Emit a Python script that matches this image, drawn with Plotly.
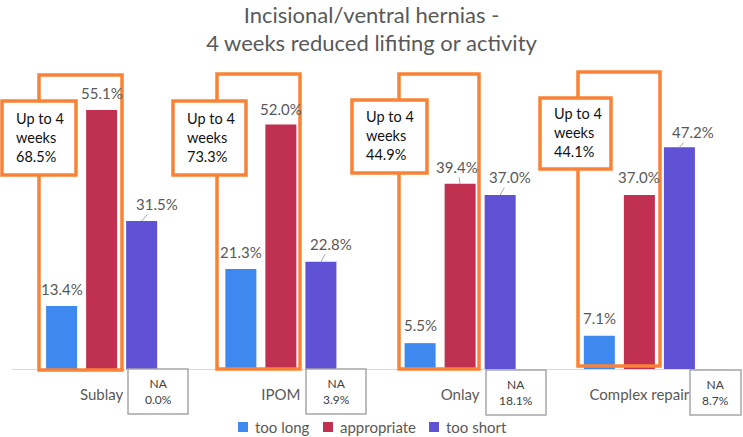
import plotly.graph_objects as go

# ---- data ----
categories = ["Sublay", "IPOM", "Onlay", "Complex repair"]
series_names = ["too long", "appropriate", "too short"]
too_long = [13.4, 21.3, 5.5, 7.1]
appropriate = [55.1, 52.0, 39.4, 37.0]
too_short = [31.5, 22.8, 37.0, 47.2]
up_to_4_weeks = [68.5, 73.3, 44.9, 44.1]
na_share = [0.0, 3.9, 18.1, 8.7]

series_values = [too_long, appropriate, too_short]

# ---- styling / layout ----
colors = ["#3D89F0", "#C03050", "#6052D4"]
orange = "#F98236"
gray_text = "#595959"
FONT = "Lato"

W, H = 743, 437
ML, MR, MT, MB = 12, 14, 60, 68
plot_w = W - ML - MR
plot_h = H - MT - MB
PX_PER_PCT = 4.70
YMAX = plot_h / PX_PER_PCT

BARGAP = 0.33
BARGROUPGAP = 0.225
SLOT = (1 - BARGAP) / 3


def px2x(px):
    return (px - ML) / plot_w


def py2y(py):
    return (H - MB - py) / plot_h


# label offsets (ax, ay, leader line) per series per category
label_offsets = [
    [(0, -17, False), (0, -17, False), (0, -18, False), (0, -18, False)],
    [(0, -17, False), (0, -16, False), (-3, -17, True), (0, -18, False)],
    [(15, -17, True), (10, -18, True), (10, -18, True), (14, -15, True)],
]

# orange boxes (pixel centerlines)
tall_boxes = [(39, 122, 75, 370), (217, 300, 74, 369), (399, 479, 74, 369), (578, 660, 72, 366)]
small_boxes = [(2, 76, 101, 175), (173, 246, 101, 175), (352, 427, 100, 173), (540, 611, 98, 169)]
na_boxes = [(128, 188, 369, 414), (306, 366, 369, 414), (486, 546, 370, 415), (690, 741, 370, 415)]
legend_x = [238, 323, 429]   # left edge of each legend swatch (px)
LEGEND_Y = 427

fig = go.Figure()
for name, vals, col in zip(series_names, series_values, colors):
    fig.add_trace(go.Bar(
        x=categories, y=vals, name=name, marker=dict(color=col, line=dict(width=0)),
        hoverinfo="skip", showlegend=False,
    ))

annotations = []
for k, vals in enumerate(series_values):
    for i, v in enumerate(vals):
        ax, ay, leader = label_offsets[k][i]
        xpos = i + (k - 1) * SLOT
        txt = f"{v:.1f}%"
        if leader:
            annotations.append(dict(
                x=xpos, y=v, xref="x", yref="y", text=txt, showarrow=True,
                ax=ax, ay=ay, arrowhead=0, arrowwidth=1, arrowcolor="#A6A6A6",
                standoff=0, font=dict(family=FONT, size=15, color=gray_text),
            ))
        else:
            annotations.append(dict(
                x=xpos, y=v, xref="x", yref="y", text=txt, showarrow=False,
                yshift=-ay, yanchor="middle",
                font=dict(family=FONT, size=15, color=gray_text),
            ))

shapes = []
for (x0, x1, y0, y1) in tall_boxes:
    shapes.append(dict(type="rect", xref="paper", yref="paper",
                       x0=px2x(x0), x1=px2x(x1), y0=py2y(y1), y1=py2y(y0),
                       line=dict(color=orange, width=3.5), fillcolor="rgba(0,0,0,0)", layer="above"))
for (x0, x1, y0, y1), pct in zip(small_boxes, up_to_4_weeks):
    shapes.append(dict(type="rect", xref="paper", yref="paper",
                       x0=px2x(x0), x1=px2x(x1), y0=py2y(y1), y1=py2y(y0),
                       line=dict(color=orange, width=3.5), fillcolor="white", layer="above"))
    annotations.append(dict(
        x=px2x(x0 + 12), y=py2y((y0 + y1) / 2 - 1), xref="paper", yref="paper",
        xanchor="left", yanchor="middle", align="left", showarrow=False,
        text=f"Up to 4<br>weeks<br>{pct:.1f}%",
        font=dict(family=FONT, size=14.5, color="#111111"),
    ))
for (x0, x1, y0, y1), na in zip(na_boxes, na_share):
    shapes.append(dict(type="rect", xref="paper", yref="paper",
                       x0=px2x(x0), x1=px2x(x1), y0=py2y(y1), y1=py2y(y0),
                       line=dict(color="#A6A6A6", width=1.5), fillcolor="white", layer="above"))
    annotations.append(dict(
        x=px2x((x0 + x1) / 2), y=py2y((y0 + y1) / 2), xref="paper", yref="paper",
        xanchor="center", yanchor="middle", showarrow=False,
        text=f"NA<br>{na:.1f}%",
        font=dict(family=FONT, size=12, color="#404040"),
    ))

# legend (swatch + label per series)
for lx, name, col in zip(legend_x, series_names, colors):
    shapes.append(dict(type="rect", xref="paper", yref="paper",
                       x0=px2x(lx), x1=px2x(lx + 10), y0=py2y(LEGEND_Y + 5), y1=py2y(LEGEND_Y - 5),
                       line=dict(width=0), fillcolor=col, layer="above"))
    annotations.append(dict(
        x=px2x(lx + 15), y=py2y(LEGEND_Y), xref="paper", yref="paper",
        xanchor="left", yanchor="middle", showarrow=False, text=name,
        font=dict(family=FONT, size=15, color=gray_text),
    ))

fig.update_layout(
    width=W, height=H,
    margin=dict(l=ML, r=MR, t=MT, b=MB, pad=0, autoexpand=False),
    paper_bgcolor="white", plot_bgcolor="white",
    barmode="group", bargap=BARGAP, bargroupgap=BARGROUPGAP,
    title=dict(
        text="Incisional/ventral hernias -<br>4 weeks reduced lifiting or activity",
        x=0.5, xanchor="center", y=1 - 22.5 / H, yanchor="middle", yref="container",
        font=dict(family=FONT, size=22, color=gray_text),
    ),
    xaxis=dict(
        showline=True, linecolor="#D9D9D9", linewidth=1, showgrid=False, zeroline=False,
        ticks="", ticklabelstandoff=12, automargin=False,
        tickfont=dict(family=FONT, size=15, color=gray_text),
    ),
    yaxis=dict(range=[0, YMAX], visible=False, showgrid=False, zeroline=False, automargin=False),
    showlegend=False,
    shapes=shapes,
    annotations=annotations,
)

fig.write_html("out.html", config={"displayModeBar": False},
               post_script="document.body.style.margin='0';")
